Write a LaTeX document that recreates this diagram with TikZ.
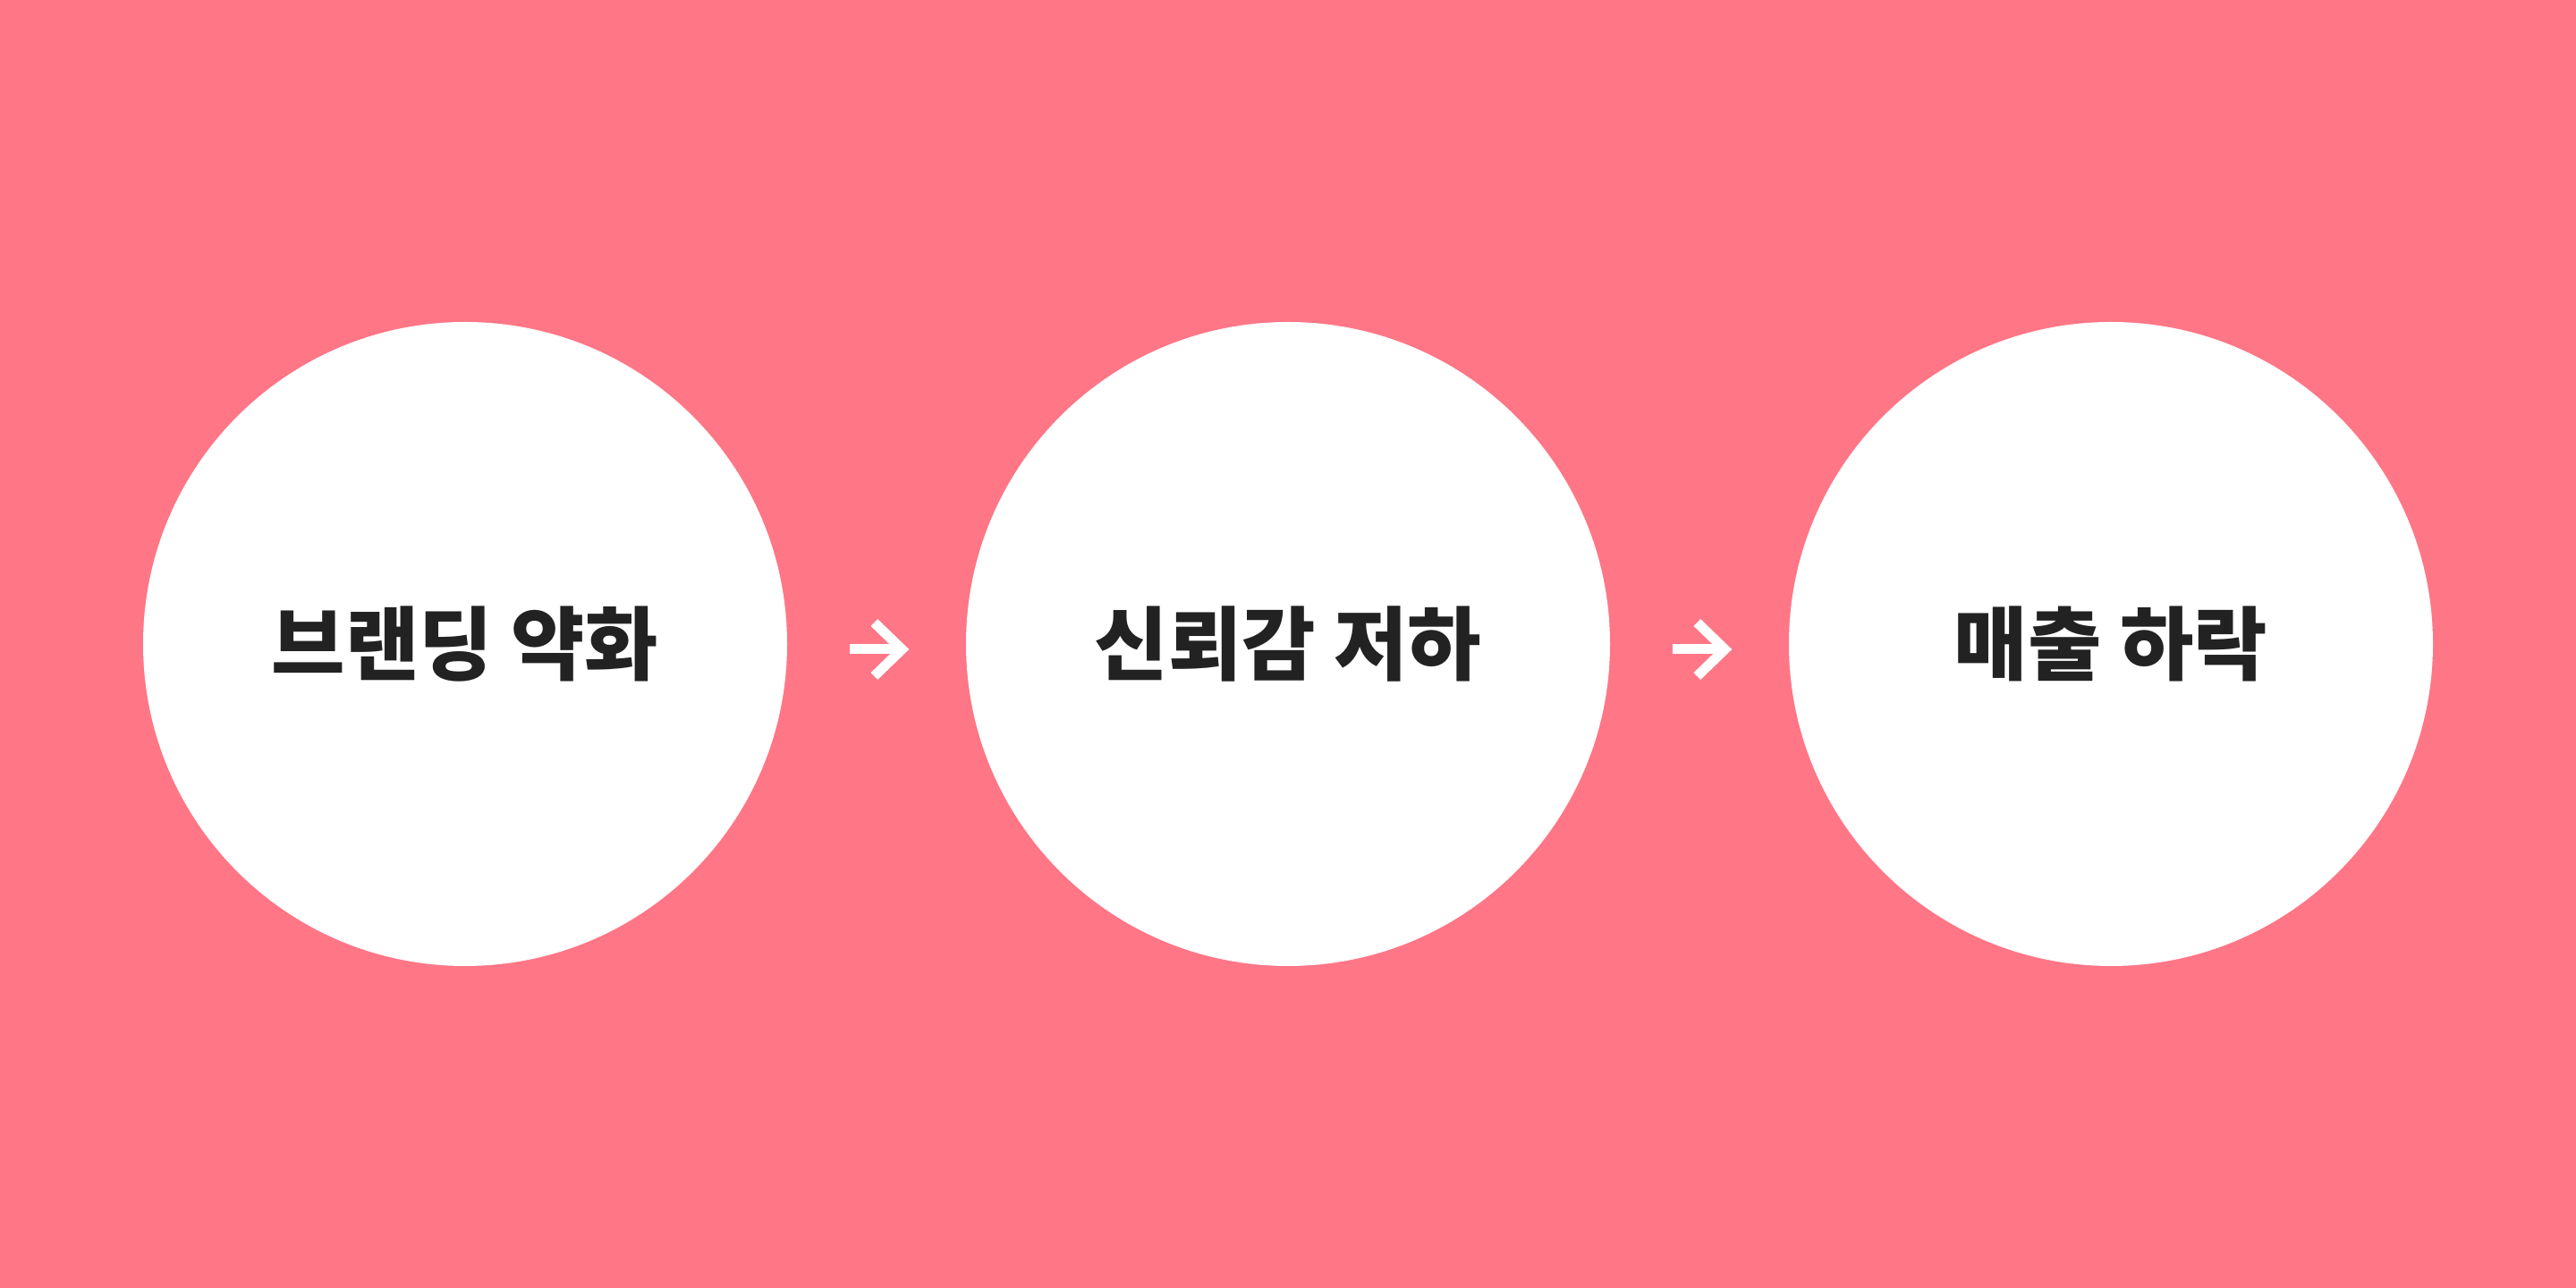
\documentclass[tikz,border=0pt]{standalone}
\usepackage{fontspec}
\newfontfamily\krfont{Noto Sans CJK KR}
\usetikzlibrary{arrows.meta}
\definecolor{bgpink}{HTML}{FF7686}
\definecolor{ink}{HTML}{222222}

\begin{document}
\begin{tikzpicture}[
  stage/.style={circle, fill=white, minimum size=7.2cm, inner sep=0pt,
                text=ink, font=\krfont\bfseries\fontsize{25.5}{30}\selectfont},
  arrow/.style={white, line width=1.1mm,
                -{Straight Barb[length=3.1mm, width=6.0mm]},
                shorten <=6.9mm, shorten >=6.3mm}
]
% Background
\fill[bgpink] (0,0) rectangle (28.8,14.4);

% Stages
\node[stage] at (5.2,7.2)  (brand) {브랜딩 약화};
\node[stage] at (14.4,7.2) (trust) {신뢰감 저하};
\node[stage] at (23.6,7.2) (sales) {매출 하락};

% Arrows
\draw[arrow] ([yshift=-0.6mm]brand.east) -- ([yshift=-0.6mm]trust.west);
\draw[arrow] ([yshift=-0.6mm]trust.east) -- ([yshift=-0.6mm]sales.west);
\end{tikzpicture}
\end{document}
